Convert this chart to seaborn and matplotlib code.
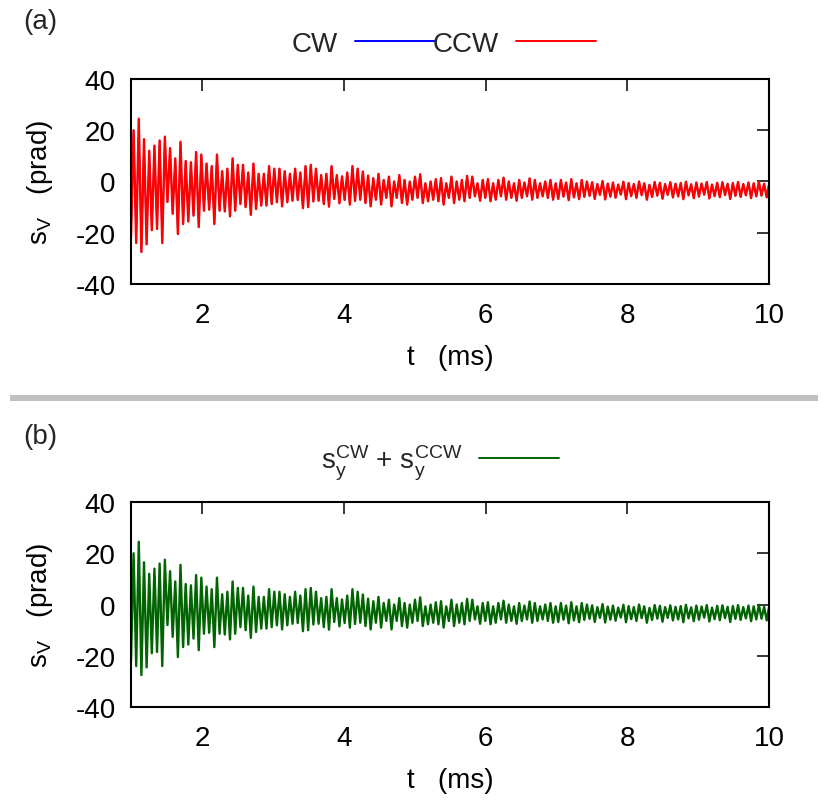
import numpy as np
import matplotlib
matplotlib.use("Agg")
import matplotlib.pyplot as plt
from matplotlib.lines import Line2D
import seaborn as sns

# time span of the recorded trace (ms)
t_start, t_end = 1.0, 10.0

# successive maxima of s_y (prad)
peaks = [
    20, 24.5, 16.5, 12, 14, 16, 17.5, 13, 9, 15.5,
    8, 7.5, 11.5, 10.5, 7, 6, 10.5, 4, 5, 9,
    6.5, 6.5, 3.5, 7, 3, 3, 6, 5, 5, 4,
    3, 5, 3.5, 6, 6.5, 5, 2.5, 3, 6, 2.5,
    2, 3.5, 6, 5,
    3.9, 2.3, 1.3, 3, 0.6, 1.9, 0, 2.5, 0.6, 0,
    1.9, 2.8, -0.7, 0, 0.9, 1.3, -0.7, 1.9, 0, 0.6,
    2.2, 1.9, -0.7, 0.6, 0.9, -0.7, 0.6, 1.5, 0, -0.7,
    0.6, -0.4, 1.2, 0.6, -0.7, 0, 0.6, -0.7, 0.6, -0.4,
    0.9, -0.7, 0.6, 0,
    -0.3, -1.0, 0.2, -0.8, -0.4, -1.2, -0.1, -0.6, -1.0, 0.0,
    -0.7, -1.3, -0.2, -0.5, -1.0, -0.3, -0.9, -0.6, -0.1, -1.1,
    -0.4, -0.8, -0.2, -1.2, -0.5, -0.3, -0.9, -0.6, -0.2, -1.0,
    -0.4, -0.7, -0.1, -0.9, -0.5,
]

# successive minima of s_y (prad)
troughs = [
    -22, -24, -27.5, -24.5, -19, -18.5, -24, -8, -12.6, -20.5,
    -16.6, -15.6, -13.3, -17.8, -11.4, -11, -16.6, -11.4, -11.7, -13.6,
    -11.4, -8.8, -10, -13, -10.7, -9.4, -9.4, -8.8, -8.1, -9.7,
    -8.1, -7.5, -7.2, -10.4, -10, -7.8, -7.5, -8.8, -9.8, -6.8,
    -8.5, -7.2, -9, -7.6,
    -7.1, -8.4, -9.7, -7.1, -9.0, -6.4, -9.7, -6.4, -8.4, -9.0,
    -7.1, -6.4, -8.4, -7.7, -7.1, -7.7, -9.0, -6.4, -8.4, -7.1,
    -7.7, -6.4, -5.8, -7.5, -6.4, -7.7, -7.1, -5.8, -7.1, -6.4,
    -7.5, -6.4, -5.8, -7.1, -6.4, -5.8, -6.4, -7.1, -6.8, -5.9,
    -7.3, -6.2, -6.9, -6.0,
    -5.6, -6.8, -5.2, -7.0, -5.9, -6.3, -5.1, -6.9, -5.7, -6.4,
    -5.3, -7.1, -6.0, -5.5, -6.7, -5.2, -6.2, -5.8, -6.9, -5.4,
    -6.5, -5.9, -5.1, -6.6, -5.7, -6.1, -5.3, -6.8, -5.6, -6.0,
    -5.4, -6.5, -5.8, -5.5, -6.2,
]

x_ticks = [2, 4, 6, 8, 10]
y_ticks = [-40, -20, 0, 20, 40]

n = min(len(peaks), len(troughs))
t = np.linspace(t_start, t_end, 2 * n)
sy_ccw = np.ravel(np.column_stack([troughs[:n], peaks[:n]]))
# the CW trace coincides with CCW and is hidden under it
sy_cw = sy_ccw.copy()
sy_sum = sy_ccw.copy()

sns.set_theme(style="white")
plt.rcParams["font.family"] = ["Liberation Sans", "DejaVu Sans"]
plt.rcParams["mathtext.fontset"] = "custom"
plt.rcParams["mathtext.rm"] = "Liberation Sans"
plt.rcParams["mathtext.it"] = "Liberation Sans"
plt.rcParams["mathtext.default"] = "regular"
plt.rcParams["axes.unicode_minus"] = False

FS = 20
LW = 1.7

fig = plt.figure(figsize=(8.29, 8.12), dpi=100)
ax_a = fig.add_axes([0.158, 0.649, 0.770, 0.2525])
ax_b = fig.add_axes([0.158, 0.128, 0.770, 0.2525])


def style_axis(ax):
    ax.set_xlim(t_start, t_end)
    ax.set_ylim(-40, 40)
    ax.set_xticks(x_ticks)
    ax.set_yticks(y_ticks)
    ax.tick_params(direction="in", length=8.5, width=1.1, top=True, right=True,
                   labelsize=FS, colors="black")
    ax.tick_params(axis="x", pad=13)
    ax.tick_params(axis="y", pad=11)
    for sp in ax.spines.values():
        sp.set_visible(True)
        sp.set_color("black")
        sp.set_linewidth(1.5)
    ax.set_xlabel("t   (ms)", fontsize=FS, color="black")
    ax.set_ylabel("$s_V$   (prad)", fontsize=FS, color="black")
    ax.xaxis.set_label_coords(0.5, -0.355)
    ax.xaxis.label.set_va("center")
    ax.yaxis.set_label_coords(-0.142, 0.5)
    ax.yaxis.label.set_va("center")
    ax.grid(False)
    ax.set_facecolor("white")


sns.lineplot(x=t, y=sy_cw, ax=ax_a, color="#0000ff", linewidth=1.0,
             label="CW", estimator=None, sort=False)
sns.lineplot(x=t, y=sy_ccw, ax=ax_a, color="#ff0000", linewidth=LW,
             label="CCW", estimator=None, sort=False)
style_axis(ax_a)
leg_a = ax_a.legend(loc="center", bbox_to_anchor=(444 / 829, 1 - 45 / 812),
                    bbox_transform=fig.transFigure, ncol=2, markerfirst=False,
                    frameon=False, fontsize=FS, handlelength=2.9,
                    handletextpad=0.6, columnspacing=-0.1, borderpad=0)
for h in leg_a.get_lines():
    h.set_linewidth(1.4)

sns.lineplot(x=t, y=sy_sum, ax=ax_b, color="#006400", linewidth=LW,
             label="$s_y^{CW}$ + $s_y^{CCW}$", estimator=None, sort=False)
style_axis(ax_b)
leg_b = ax_b.legend(loc="center", bbox_to_anchor=(440 / 829, 1 - 463 / 812),
                    bbox_transform=fig.transFigure, markerfirst=False,
                    frameon=False, fontsize=FS, handlelength=2.9,
                    handletextpad=0.6, borderpad=0)
for h in leg_b.get_lines():
    h.set_linewidth(1.4)

fig.text(40 / 829, 1 - 22 / 812, "(a)", fontsize=FS, ha="center", va="center")
fig.text(40 / 829, 1 - 437 / 812, "(b)", fontsize=FS, ha="center", va="center")

fig.add_artist(Line2D([10 / 829, 818 / 829], [1 - 399 / 812] * 2,
                      transform=fig.transFigure, color="#c0c0c0",
                      linewidth=4.3, solid_capstyle="butt"))

fig.savefig("out.png", dpi=100)
